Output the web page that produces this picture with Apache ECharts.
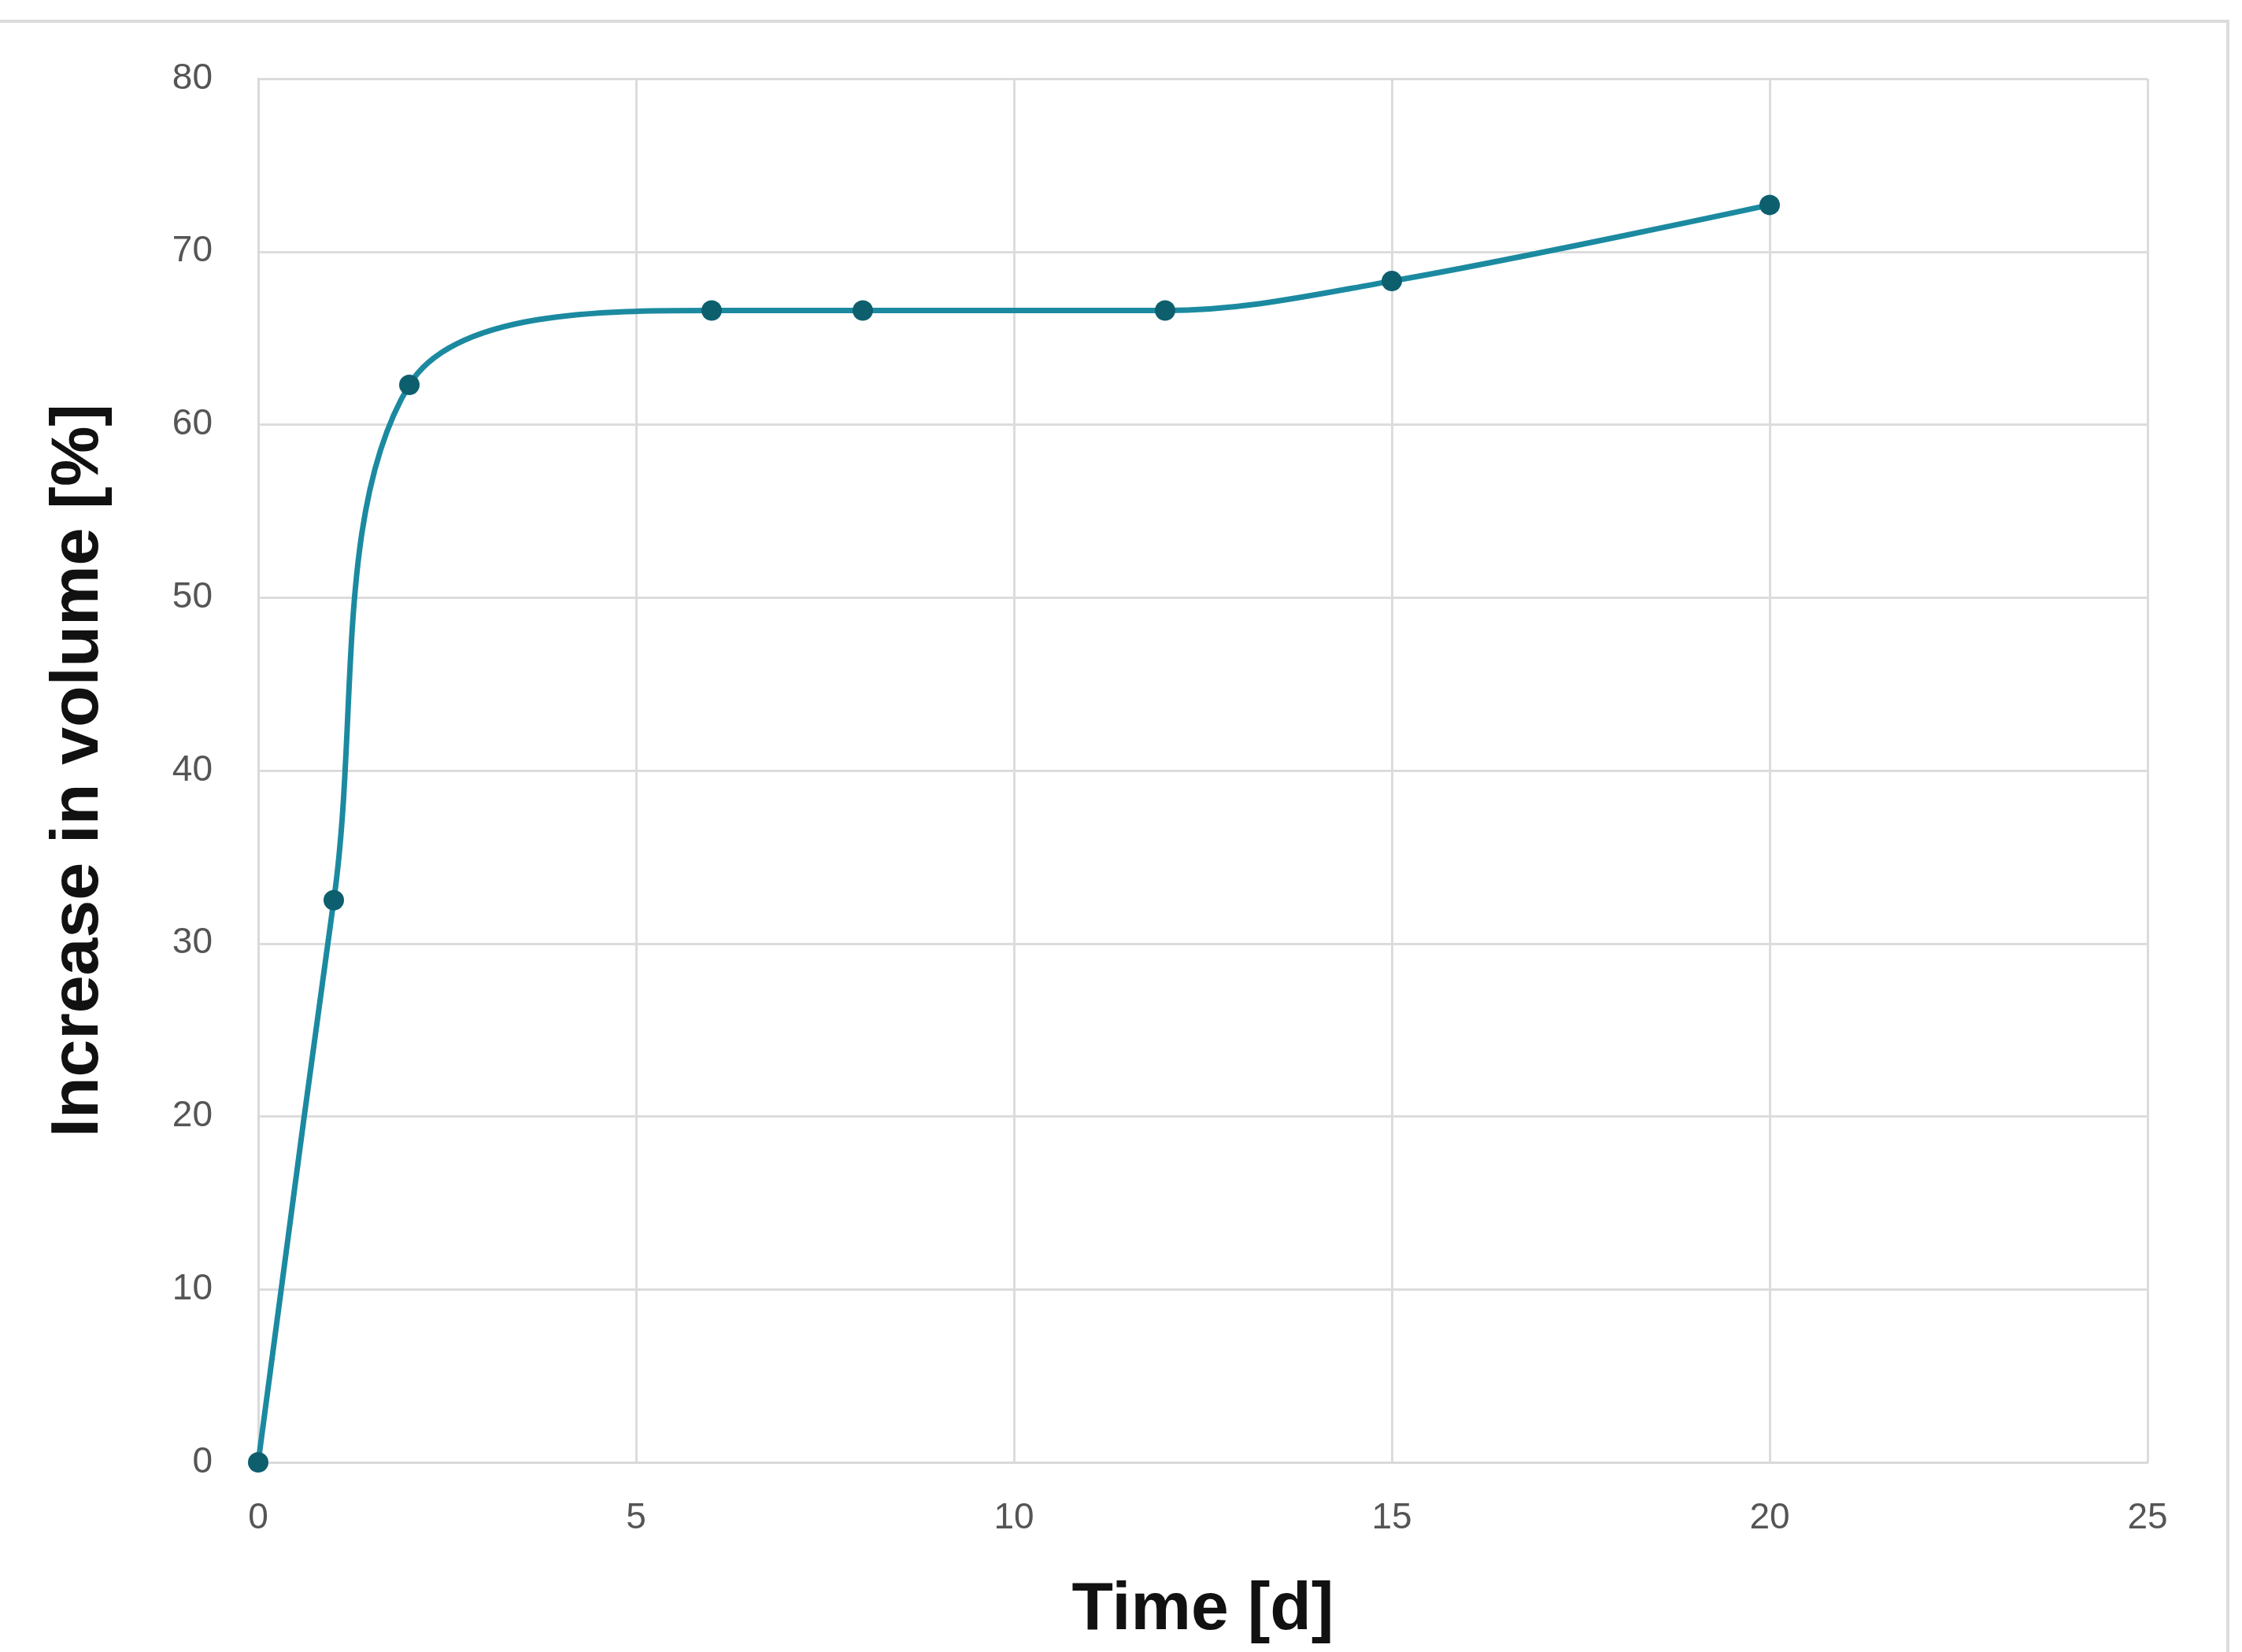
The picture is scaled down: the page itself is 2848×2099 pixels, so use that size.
<!DOCTYPE html>
<html><head><meta charset="utf-8">
<script src="https://cdn.jsdelivr.net/npm/echarts@6/dist/echarts.min.js"></script>
<style>html,body{margin:0;padding:0;background:#fff}#c{width:2848px;height:2099px}</style>
</head><body><div id="c"></div>
<script>
const timeDays = [0, 1, 2, 6, 8, 12, 15, 20];
const volumeIncrease = [0, 32.5, 62.3, 66.6, 66.6, 66.6, 68.3, 72.7];
const xTicks = [0, 5, 10, 15, 20, 25];
const yTicks = [0, 10, 20, 30, 40, 50, 60, 70, 80];

const chart = echarts.init(document.getElementById('c'));
chart.setOption({
  backgroundColor: '#fff',
  graphic: [{type:'rect', shape:{x:-10, y:27, width:2840, height:2120}, style:{fill:'none', stroke:'#dcdcdc', lineWidth:4}, silent:true}],
  grid: {left: 328, right: 120, top: 100, bottom: 241},
  xAxis: {
    type: 'value', min: xTicks[0], max: xTicks[xTicks.length-1], interval: 5,
    name: 'Time [d]', nameLocation: 'middle', nameGap: 145,
    nameTextStyle: {fontFamily:'Liberation Sans', fontWeight:'bold', fontSize:86, color:'#111'},
    axisLine: {show:true, lineStyle:{color:'#d9d9d9', width:3}},
    axisTick: {show:false},
    axisLabel: {fontFamily:'Liberation Sans', fontSize:46, color:'#555', margin:48},
    splitLine: {show:true, lineStyle:{color:'#dcdcdc', width:3}}
  },
  yAxis: {
    type: 'value', min: yTicks[0], max: yTicks[yTicks.length-1], interval: 10,
    name: 'Increase in volume [%]', nameLocation: 'middle', nameGap: 185,
    nameTextStyle: {fontFamily:'Liberation Sans', fontWeight:'bold', fontSize:86, color:'#111'},
    axisLine: {show:true, lineStyle:{color:'#d9d9d9', width:3}},
    axisTick: {show:false},
    axisLabel: {fontFamily:'Liberation Sans', fontSize:46, color:'#555', margin:58},
    splitLine: {show:true, lineStyle:{color:'#dcdcdc', width:3}}
  },
  series: [{
    type: 'line', smooth: 0.35,
    data: timeDays.map((t,i)=>[t, volumeIncrease[i]]),
    symbol: 'circle', symbolSize: 26,
    lineStyle: {color:'#1b8aa0', width:7},
    itemStyle: {color:'#0d5f6e'}
  }]
});
</script></body></html>
